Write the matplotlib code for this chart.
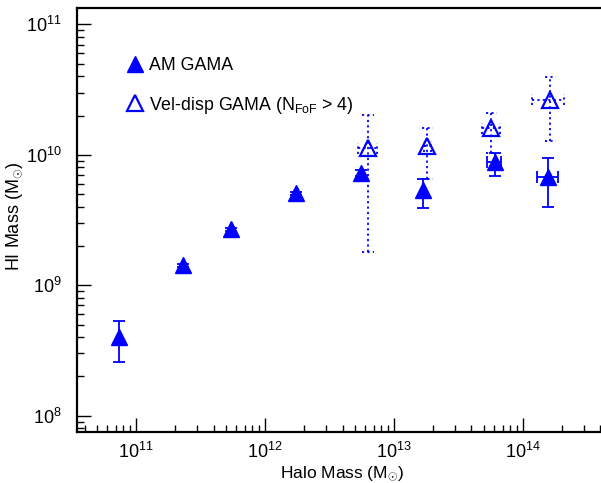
import numpy as np
import matplotlib
matplotlib.use('Agg')
import matplotlib.pyplot as plt
from matplotlib.lines import Line2D

plt.rcParams['font.family'] = ['Liberation Sans', 'DejaVu Sans']
plt.rcParams['mathtext.fontset'] = 'custom'
plt.rcParams['mathtext.rm'] = 'Liberation Sans'
plt.rcParams['mathtext.it'] = 'Liberation Sans:italic'
plt.rcParams['mathtext.bf'] = 'Liberation Sans:bold'

# AM GAMA (filled triangles)
am_x = np.array([7.4e10, 2.3e11, 5.5e11, 1.73e12, 5.6e12, 1.69e13, 6.05e13, 1.57e14])
am_y = np.array([4.0e8, 1.42e9, 2.68e9, 5.06e9, 7.26e9, 5.33e9, 8.78e9, 6.74e9])
am_y_low = np.array([2.57e8, 1.38e9, 2.6e9, 4.9e9, 6.9e9, 3.9e9, 6.9e9, 3.95e9])
am_y_high = np.array([5.3e8, 1.46e9, 2.76e9, 5.2e9, 7.6e9, 6.55e9, 1.03e10, 9.4e9])
am_x_low = np.array([7.4e10, 2.3e11, 5.5e11, 1.73e12, 5.6e12, 1.69e13, 5.27e13, 1.28e14])
am_x_high = np.array([7.4e10, 2.3e11, 5.5e11, 1.73e12, 5.6e12, 1.69e13, 6.76e13, 1.87e14])

# Vel-disp GAMA (open triangles)
vd_x = np.array([6.3e12, 1.82e13, 5.7e13, 1.63e14])
vd_y = np.array([1.12e10, 1.16e10, 1.6e10, 2.65e10])
vd_y_low = np.array([1.8e9, 6.48e9, 1.03e10, 1.27e10])
vd_y_high = np.array([2.03e10, 1.6e10, 2.08e10, 3.97e10])
vd_x_low = np.array([5.27e12, 1.72e13, 4.85e13, 1.18e14])
vd_x_high = np.array([7.35e12, 1.93e13, 6.62e13, 2.09e14])

blue = '#0000ff'
dots = (0, (1.2, 1.8))

fig = plt.figure(figsize=(6.01, 4.83), dpi=100)
# right edge runs past the figure, as in the original
ax = fig.add_axes([0.128, 0.1056, 0.937, 0.8778])
ax.set_xscale('log')
ax.set_yscale('log')
ax.set_xlim(10 ** 10.543, 10 ** 14.909)
ax.set_ylim(10 ** 7.875, 10 ** 11.125)

# filled points, solid error bars
ax.errorbar(am_x, am_y,
            yerr=[am_y - am_y_low, am_y_high - am_y],
            xerr=[am_x - am_x_low, am_x_high - am_x],
            fmt='^', color=blue, ms=11, mec=blue, mfc=blue,
            elinewidth=1.3, capsize=4.3, capthick=1.3, zorder=3)

# open points, dotted error bars with dotted caps
ax.errorbar(vd_x, vd_y,
            yerr=[vd_y - vd_y_low, vd_y_high - vd_y],
            xerr=[vd_x - vd_x_low, vd_x_high - vd_x],
            fmt='none', ecolor=blue, elinewidth=1.3, capsize=0, zorder=2)
for lc in ax.containers[-1].lines[2]:
    lc.set_linestyle(dots)
cw = 10 ** 0.043
ch = 10 ** 0.042
ax.hlines(np.concatenate([vd_y_low, vd_y_high]),
          np.concatenate([vd_x, vd_x]) / cw, np.concatenate([vd_x, vd_x]) * cw,
          colors=blue, linewidth=1.3, linestyles=dots, zorder=2)
ax.vlines(np.concatenate([vd_x_low, vd_x_high]),
          np.concatenate([vd_y, vd_y]) / ch, np.concatenate([vd_y, vd_y]) * ch,
          colors=blue, linewidth=1.3, linestyles=dots, zorder=2)
ax.plot(vd_x, vd_y, '^', ms=12, mfc='none', mec=blue, mew=1.6, zorder=3)

ax.tick_params(which='both', direction='in', top=False, right=False, labelsize=13)
ax.tick_params(which='major', length=10, width=1)
ax.tick_params(which='minor', length=5, width=1)
ax.tick_params(axis='x', pad=7)
ax.tick_params(axis='y', pad=11)
for s in ax.spines.values():
    s.set_linewidth(1.6)

ax.set_xlabel(r'Halo Mass (M$_{\odot}$)', fontsize=12.5)
ax.xaxis.set_label_coords(0.471, -0.076)
ax.set_ylabel(r'HI Mass (M$_{\odot}$)', fontsize=13)
ax.yaxis.set_label_coords(-0.092, 0.509)

handles = [
    Line2D([], [], marker='^', ls='none', color=blue, ms=11),
    Line2D([], [], marker='^', ls='none', mfc='none', mec=blue, mew=1.6, ms=12),
]
labels = ['AM GAMA', r'Vel-disp GAMA (N$_{\rm FoF}$ > 4)']
ax.legend(handles, labels, loc='upper left', bbox_to_anchor=(0.078, 0.901),
          frameon=False, fontsize=12.8, handletextpad=0.4, labelspacing=1.15,
          borderaxespad=0, handlelength=0.8)

fig.savefig('out.png', dpi=100)
